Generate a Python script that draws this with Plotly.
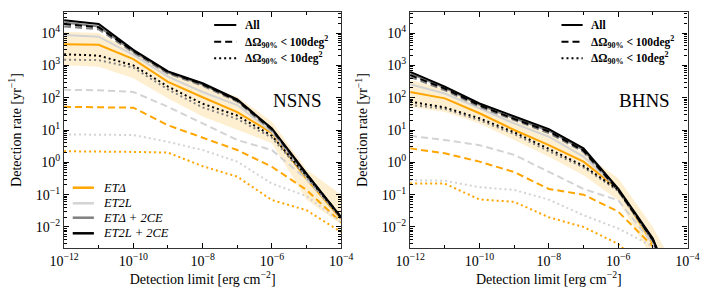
import plotly.graph_objects as go

# ---------------- data ----------------
x_limit = [1e-12, 1e-11, 1e-10, 1e-9, 1e-8, 1e-7, 1e-6, 1e-5, 1e-4]

# NSNS
ns_etd_all = [4.5e3, 4.3e3, 1.55e3, 310, 103, 36, 8.1, 0.3, 0.018]
ns_etd_100 = [52, 50, 49, 14, 5.9, 2.4, 0.73, 0.14, 0.014]
ns_etd_10 = [2.2, 2.2, 2.1, 2.0, 0.76, 0.36, 0.068, 0.033, 0.007]
ns_et2l_all = [8.7e3, 7.7e3, 2.1e3, 450, 150, 59, 8.7, 0.35, 0.02]
ns_et2l_100 = [175, 170, 150, 52, 16, 4.9, 2.4, 0.3, 0.02]
ns_et2l_10 = [7.3, 7.1, 7.0, 4.3, 2.4, 1.05, 0.22, 0.09, 0.014]
ns_etd2ce_all = [2.1e4, 1.6e4, 2.7e3, 600, 255, 82, 10.5, 0.42, 0.02]
ns_etd2ce_100 = [1.6e4, 1.3e4, 2.5e3, 560, 235, 76, 9.5, 0.4, 0.019]
ns_etd2ce_10 = [1.5e3, 1.45e3, 850, 180, 50, 22, 5.8, 0.35, 0.018]
ns_et2l2ce_all = [2.5e4, 1.9e4, 3.0e3, 650, 280, 88, 11.2, 0.45, 0.02]
ns_et2l2ce_100 = [1.9e4, 1.5e4, 2.8e3, 620, 260, 82, 10.5, 0.43, 0.02]
ns_et2l2ce_10 = [2.2e3, 2.0e3, 1.0e3, 220, 65, 28, 6.6, 0.38, 0.019]
ns_band_lo = [1.0e3, 0.9e3, 400, 95, 26, 10, 3.9, 0.07, 0.012]
ns_band_hi = [1.1e4, 1.0e4, 2.7e3, 580, 235, 107, 18, 0.6, 0.1]

# BHNS
bh_etd_all = [150, 95, 33, 10, 3.4, 1.05, 0.15, 0.003, 1e-5]
bh_etd_100 = [2.7, 1.9, 1.05, 0.5, 0.15, 0.1, 0.03, 0.0025, 1e-5]
bh_etd_10 = [0.22, 0.22, 0.071, 0.06, 0.02, 0.01, 0.003, 0.0003, 1e-6]
bh_et2l_all = [260, 135, 47, 16, 6.2, 1.5, 0.15, 0.0035, 1e-5]
bh_et2l_100 = [6.6, 4.9, 3.4, 1.7, 0.51, 0.15, 0.067, 0.003, 1e-5]
bh_et2l_10 = [0.28, 0.27, 0.17, 0.14, 0.07, 0.023, 0.009, 0.0025, 1e-6]
bh_etd2ce_all = [560, 200, 60, 23, 9.5, 2.4, 0.14, 0.004, 1e-5]
bh_etd2ce_100 = [440, 170, 52, 20, 8.0, 2.1, 0.13, 0.0038, 1e-5]
bh_etd2ce_10 = [60, 45, 20, 7.5, 2.2, 0.7, 0.13, 0.0038, 1e-5]
bh_et2l2ce_all = [630, 220, 66, 26, 10.6, 2.7, 0.155, 0.0044, 1e-5]
bh_et2l2ce_100 = [500, 190, 58, 22, 9.0, 2.3, 0.14, 0.004, 1e-5]
bh_et2l2ce_10 = [75, 50, 23, 8.5, 2.6, 0.78, 0.14, 0.004, 1e-5]
bh_band_lo = [52, 36, 16, 4.9, 1.5, 0.4, 0.067, 0.001, 1e-6]
bh_band_hi = [350, 190, 59, 20, 7.9, 1.9, 0.32, 0.01, 1e-4]

detectors = ["ETΔ", "ET2L", "ETΔ + 2CE", "ET2L + 2CE"]
det_colors = ["#FFA500", "#D3D3D3", "#808080", "#000000"]
style_names = ["All", "ΔΩ<sub>90%</sub> < 100deg<sup>2</sup>", "ΔΩ<sub>90%</sub> < 10deg<sup>2</sup>"]
panel_names = ["NSNS", "BHNS"]
x_tickvals = [1e-12, 1e-10, 1e-8, 1e-6, 1e-4]
x_ticktext = ["10<sup>−12</sup>", "10<sup>−10</sup>", "10<sup>−8</sup>", "10<sup>−6</sup>", "10<sup>−4</sup>"]
x_minorvals = [1e-11, 1e-9, 1e-7, 1e-5]
y_tickvals = [1e-2, 1e-1, 1, 10, 100, 1e3, 1e4]
y_ticktext = ["10<sup>−2</sup>", "10<sup>−1</sup>", "10<sup>0</sup>", "10<sup>1</sup>",
              "10<sup>2</sup>", "10<sup>3</sup>", "10<sup>4</sup>"]

panels = [
    ("x", "y", ns_band_lo, ns_band_hi,
     [[ns_etd_all, ns_etd_100, ns_etd_10], [ns_et2l_all, ns_et2l_100, ns_et2l_10],
      [ns_etd2ce_all, ns_etd2ce_100, ns_etd2ce_10], [ns_et2l2ce_all, ns_et2l2ce_100, ns_et2l2ce_10]]),
    ("x2", "y2", bh_band_lo, bh_band_hi,
     [[bh_etd_all, bh_etd_100, bh_etd_10], [bh_et2l_all, bh_et2l_100, bh_et2l_10],
      [bh_etd2ce_all, bh_etd2ce_100, bh_etd2ce_10], [bh_et2l2ce_all, bh_et2l2ce_100, bh_et2l2ce_10]]),
]

dashes = ["solid", "7px,4px", "2px,3px"]
SERIF = "Liberation Serif"
W, H = 713, 289

fig = go.Figure()
for xa, ya, lo, hi, series in panels:
    fig.add_trace(go.Scatter(x=x_limit, y=lo, xaxis=xa, yaxis=ya, mode="lines",
                             line=dict(width=0), showlegend=False, hoverinfo="skip"))
    fig.add_trace(go.Scatter(x=x_limit, y=hi, xaxis=xa, yaxis=ya, mode="lines",
                             line=dict(width=0), fill="tonexty",
                             fillcolor="rgba(255,165,0,0.18)", showlegend=False, hoverinfo="skip"))
    for di, det in enumerate(series):
        for si, vals in enumerate(det):
            fig.add_trace(go.Scatter(x=x_limit, y=vals, xaxis=xa, yaxis=ya, mode="lines",
                                     line=dict(color=det_colors[di], width=2, dash=dashes[si]),
                                     name=detectors[di], showlegend=False))

# ---------- hand-placed legends (paper coordinates) ----------
shapes, annotations = [], []


def px(x):
    return x / W


def py(y):
    return 1 - y / H


style_rows = [25, 41.7, 58.3]
for (lx0, lx1, tx) in [(207, 230, 237), (568, 590, 597)]:
    for si, sn in enumerate(style_names):
        shapes.append(dict(type="line", xref="paper", yref="paper",
                           x0=px(lx0), x1=px(lx1), y0=py(style_rows[si]), y1=py(style_rows[si]),
                           line=dict(color="black", width=2, dash=dashes[si])))
        annotations.append(dict(text="<b>" + sn + "</b>", xref="paper", yref="paper",
                                x=px(tx), y=py(style_rows[si]), xanchor="left", yanchor="middle",
                                showarrow=False, font=dict(family=SERIF, size=11.5, color="black")))

det_rows = [187.7, 203.3, 217.7, 233.3]
for di, det in enumerate(detectors):
    shapes.append(dict(type="line", xref="paper", yref="paper",
                       x0=px(60), x1=px(82), y0=py(det_rows[di]), y1=py(det_rows[di]),
                       line=dict(color=det_colors[di], width=2.5)))
    annotations.append(dict(text="<i>" + det + "</i>", xref="paper", yref="paper",
                            x=px(89), y=py(det_rows[di]), xanchor="left", yanchor="middle",
                            showarrow=False, font=dict(family=SERIF, size=12.5, color="black")))

for pi, pn in enumerate(panel_names):
    sfx = "" if pi == 0 else "2"
    annotations.append(dict(text=pn, xref="x" + sfx + " domain", yref="y" + sfx + " domain",
                            x=0.844, y=0.627, xanchor="center", yanchor="middle",
                            showarrow=False, font=dict(family=SERIF, size=19, color="black")))

yd = [41 / H, 277 / H]
common_x = dict(type="log", range=[-12, -4], tickvals=x_tickvals, ticktext=x_ticktext,
                ticks="inside", ticklen=5, tickwidth=1, tickcolor="black",
                minor=dict(tickvals=x_minorvals, ticks="inside", ticklen=3, tickcolor="black"),
                showline=True, linecolor="#333", linewidth=1.2, mirror="allticks",
                showgrid=False, zeroline=False,
                tickfont=dict(family=SERIF, size=14, color="black"),
                title=dict(text="Detection limit [erg cm<sup>−2</sup>]",
                           font=dict(family=SERIF, size=14, color="black"), standoff=4))
common_y = dict(type="log", range=[-2.65, 4.65], tickvals=y_tickvals, ticktext=y_ticktext,
                ticks="inside", ticklen=5, tickwidth=1, tickcolor="black",
                minor=dict(dtick="D1", ticks="inside", ticklen=3, tickcolor="black"),
                showline=True, linecolor="#333", linewidth=1.2, mirror="allticks",
                showgrid=False, zeroline=False, domain=yd,
                tickfont=dict(family=SERIF, size=14, color="black"),
                title=dict(text="Detection rate [yr<sup>−1</sup>]",
                           font=dict(family=SERIF, size=14, color="black"), standoff=10))

fig.update_layout(
    width=W, height=H, margin=dict(l=0, r=0, t=0, b=0),
    plot_bgcolor="white", paper_bgcolor="white",
    xaxis=dict(common_x, domain=[51 / W, 339 / W], anchor="y"),
    yaxis=dict(common_y, anchor="x"),
    xaxis2=dict(common_x, domain=[410.7 / W, 699 / W], anchor="y2"),
    yaxis2=dict(common_y, anchor="x2"),
    shapes=shapes, annotations=annotations,
    showlegend=False,
)

fig.write_html("out.html", config={"displayModeBar": False},
               post_script="document.body.style.margin='0';document.body.style.overflow='hidden';")
